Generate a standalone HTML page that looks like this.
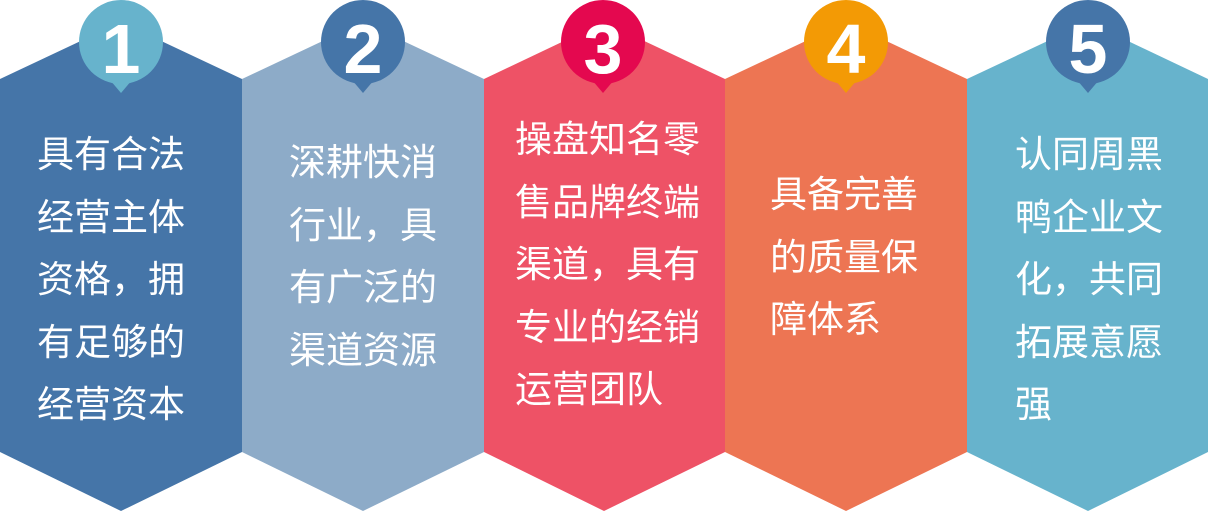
<!DOCTYPE html>
<html><head><meta charset="utf-8"><style>
html,body{margin:0;padding:0;background:#fff;width:1208px;height:511px;overflow:hidden}
.t{position:absolute;color:#fff;font-family:"Liberation Sans","Noto Sans CJK SC",sans-serif;font-size:37px;line-height:62.5px;white-space:nowrap}
.n{font-family:"Liberation Sans",sans-serif;font-weight:bold;font-size:70px;fill:#fff}
</style></head><body>
<svg width="1208" height="511" style="position:absolute;left:0;top:0">
<polygon points="0,79 121,22 242,79 242,452 121,511 0,452" fill="#4575a8"/>
<polygon points="242,79 363,22 484,79 484,452 363,511 242,452" fill="#8dabc8"/>
<polygon points="484,79 604,22 725,79 725,452 604,511 484,452" fill="#ee5266"/>
<polygon points="725,79 846,22 967,79 967,452 846,511 725,452" fill="#ed7553"/>
<polygon points="967,79 1088,22 1208,79 1208,452 1088,511 967,452" fill="#67b3cc"/>
<g>
<circle cx="121" cy="42" r="42" fill="#67b3cc"/><polygon points="110,80 132,80 121,93" fill="#67b3cc"/>
<circle cx="363" cy="42" r="42" fill="#4575a8"/><polygon points="352,80 374,80 363,93" fill="#4575a8"/>
<circle cx="603" cy="42" r="42" fill="#e4084f"/><polygon points="592,80 614,80 603,93" fill="#e4084f"/>
<circle cx="846" cy="42" r="42" fill="#f39a05"/><polygon points="835,80 857,80 846,93" fill="#f39a05"/>
<circle cx="1088" cy="42" r="42" fill="#4575a8"/><polygon points="1077,80 1099,80 1088,93" fill="#4575a8"/>
</g>
<text class="n" x="121" y="73" text-anchor="middle">1</text>
<text class="n" x="363" y="73" text-anchor="middle">2</text>
<text class="n" x="603" y="73" text-anchor="middle">3</text>
<text class="n" x="846" y="73" text-anchor="middle">4</text>
<text class="n" x="1088" y="73" text-anchor="middle">5</text>
</svg>
<div class="t" style="left:37px;top:124px">具有合法<br>经营主体<br>资格，拥<br>有足够的<br>经营资本</div>
<div class="t" style="left:289px;top:132px">深耕快消<br>行业，具<br>有广泛的<br>渠道资源</div>
<div class="t" style="left:515px;top:109px">操盘知名零<br>售品牌终端<br>渠道，具有<br>专业的经销<br>运营团队</div>
<div class="t" style="left:770px;top:164px">具备完善<br>的质量保<br>障体系</div>
<div class="t" style="left:1015px;top:124px">认同周黑<br>鸭企业文<br>化，共同<br>拓展意愿<br>强</div>
</body></html>
